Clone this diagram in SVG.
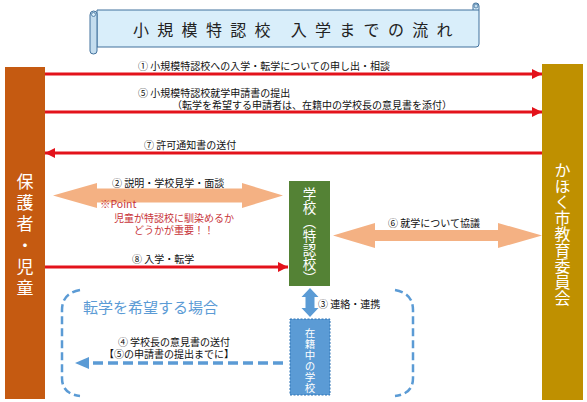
<svg xmlns="http://www.w3.org/2000/svg" width="587" height="402" viewBox="0 0 587 402">
<style>
text{font-family:"Noto Sans CJK JP","Noto Sans",sans-serif;dominant-baseline:central}
.lbl{font-size:10px;fill:#111}
.vt{writing-mode:vertical-rl;fill:#fff}
.red{stroke:#e3121b;stroke-width:3;fill:none}
.peach{fill:#f4b183}
.blue{fill:#5b9bd5}
.dash{stroke:#5b9bd5;stroke-width:2.5;fill:none;stroke-dasharray:8 4}
</style>
<defs>
<marker id="ah" markerUnits="userSpaceOnUse" markerWidth="10" markerHeight="10" refX="10" refY="5" orient="auto">
<path d="M0,0 L10,5 L0,10 Z" fill="#e3121b"/>
</marker>
</defs>
<rect width="587" height="402" fill="#fff"/>
<g id="title">
<path d="M97,10 L473,10 L473,5 Q473,3 476,3 Q479,3 479,6 L479,44 Q479,47 476,47 L97,47 Z" fill="#d9eefa" stroke="#41719c" stroke-width="1"/>
<path d="M473,10 L479,10" stroke="#41719c" stroke-width="1"/>
<circle cx="476" cy="6" r="2" fill="#c4ddee" stroke="#41719c" stroke-width="0.8"/>
<path d="M90,15 Q90,11 93.5,11 Q97,11 97,14 L97,51 Q97,54 93.5,54 Q90,54 90,51 Z" fill="#c4ddee" stroke="#41719c" stroke-width="1"/>
<circle cx="93.5" cy="14.5" r="2" fill="#d9eefa" stroke="#41719c" stroke-width="0.8"/>
<text x="133" y="29" style="font-size:16px;letter-spacing:8.3px;fill:#222">小規模特認校 入学までの流れ</text>
</g>
<g id="guardian">
<rect x="5" y="67" width="40" height="332" fill="#c55a11"/>
<text class="vt" x="25" y="173" style="font-size:17px;letter-spacing:4.2px">保護者・児童</text>
</g>
<g id="board">
<rect x="542" y="64" width="41" height="336" fill="#bf9000"/>
<text class="vt" x="562.5" y="162" style="font-size:16px">かほく市教育委員会</text>
</g>
<g id="school">
<rect x="289" y="181" width="41" height="105" fill="#548235"/>
<text class="vt" x="309.5" y="187" style="font-size:13.5px;letter-spacing:0.6px">学校︵特認校︶</text>
</g>
<g id="current-school">
<rect x="290" y="319" width="40" height="76" fill="#5b9bd5" stroke="#2e75b6" stroke-width="1" stroke-dasharray="2 1.5"/>
<text class="vt" x="310" y="328" style="font-size:10.5px;letter-spacing:0.5px">在籍中の学校</text>
</g>
<g id="connectors">
<line class="red" x1="45" y1="74" x2="542" y2="74" marker-end="url(#ah)"/>
<line class="red" x1="45" y1="112" x2="542" y2="112" marker-end="url(#ah)"/>
<line class="red" x1="542" y1="153" x2="45" y2="153" marker-end="url(#ah)"/>
<line class="red" x1="45" y1="267" x2="288" y2="267" marker-end="url(#ah)"/>
<polygon class="peach" points="53,195.5 97,183 97,188.5 242,188.5 242,183 283,195.5 242,208 242,202.5 97,202.5 97,208"/>
<polygon class="peach" points="333,235.5 375,223 375,230 498,230 498,223 542,235.5 498,248 498,241 375,241 375,248"/>
<polygon class="blue" points="310,288 318.5,297 314.5,297 314.5,308 318.5,308 310,317 301.5,308 305.5,308 305.5,297 301.5,297"/>
<path class="dash" d="M80,290 Q62,293 62,310 L62,378 Q62,394 80,396"/>
<path class="dash" d="M395,290 Q413,293 413,310 L413,378 Q413,394 395,396"/>
<line x1="283" y1="363" x2="88" y2="363" stroke="#5b9bd5" stroke-width="3.5" stroke-dasharray="10 5"/>
<polygon class="blue" points="75,363 89,357 89,369"/>
</g>
<g id="labels">
<text class="lbl" x="138" y="65.5">① 小規模特認校への入学・転学についての申し出・相談</text>
<text class="lbl" x="138" y="92">⑤ 小規模特認校就学申請書の提出<tspan x="172" dy="12">（転学を希望する申請者は、在籍中の学校長の意見書を添付）</tspan></text>
<text class="lbl" x="144" y="144">⑦ 許可通知書の送付</text>
<text class="lbl" x="112" y="182">② 説明・学校見学・面談</text>
<text x="100" y="203" style="font-size:10.5px;fill:#c8343a">※Point</text>
<text x="174" y="217" style="font-size:10px;fill:#c8343a;text-anchor:middle">児童が特認校に馴染めるか<tspan x="174" dy="12">どうかが重要！！</tspan></text>
<text class="lbl" x="132" y="258">⑧ 入学・転学</text>
<text class="lbl" x="388" y="222">⑥ 就学について協議</text>
<text class="lbl" x="318" y="303">③ 連絡・連携</text>
<text x="83" y="306" style="font-size:15px;fill:#5b9bd5">転学を希望する場合</text>
<text class="lbl" x="174" y="341" style="text-anchor:middle">④ 学校長の意見書の送付<tspan x="169" dy="12">【⑤の申請書の提出までに】</tspan></text>
</g>
</svg>
